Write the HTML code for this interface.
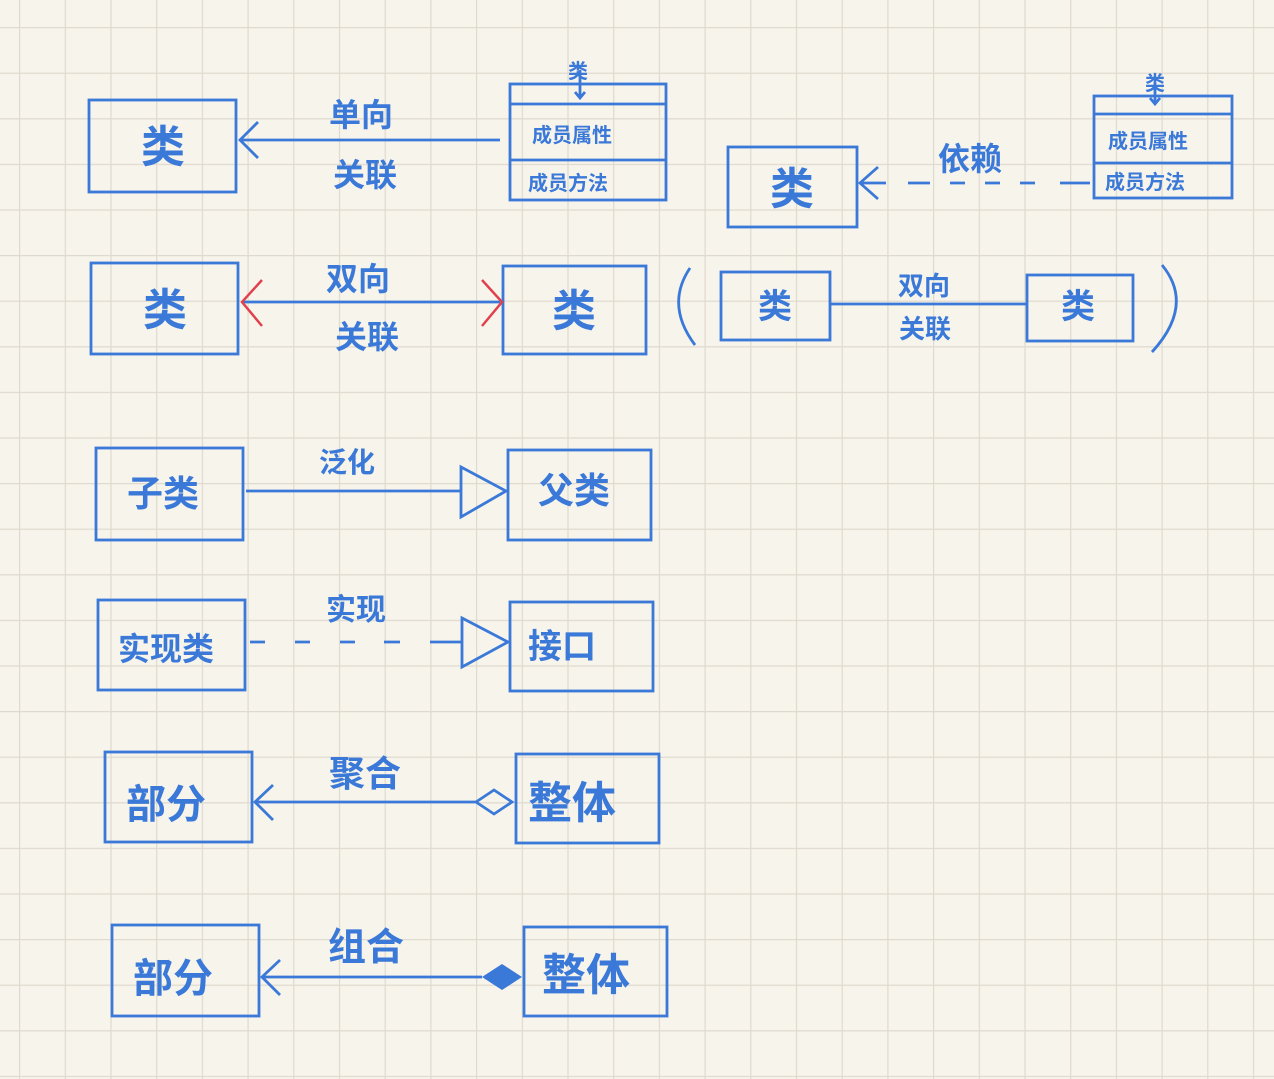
<!DOCTYPE html>
<html><head><meta charset="utf-8"><style>
html,body{margin:0;padding:0;background:#f7f4eb;}
svg{display:block}
text{font-family:"Liberation Sans","Noto Sans CJK SC",sans-serif;fill:#3b79d9;font-weight:bold;}
</style></head><body>
<svg width="1274" height="1079" viewBox="0 0 1274 1079" xmlns="http://www.w3.org/2000/svg">
<defs>
<pattern id="g" x="19" y="27" width="45.7" height="45.6" patternUnits="userSpaceOnUse">
<path d="M0 0H45.7M0 0V45.6" stroke="#dfdacf" stroke-width="2.4" fill="none"/>
</pattern>
</defs>
<rect width="1274" height="1079" fill="url(#g)"/>
<g stroke="#3b79d9" stroke-width="2.8" fill="none">
<rect x="89" y="100" width="147" height="92"/>
<path d="M240 140H500M258 122L240 140L258 158"/>
<rect x="510" y="84" width="156" height="116"/>
<path d="M510 104H666M510 160H666M580 70V98M575 92L580 98L585 92"/>
<rect x="728" y="147" width="129" height="80"/>
<path d="M860 183H886M908 183H930M950 183H965M985 183H1000M1020 183H1035M1060 183H1090M878 167L860 183L878 199"/>
<rect x="1094" y="96" width="138" height="102"/>
<path d="M1094 114H1232M1094 163H1232M1155 82V104M1150 98L1155 104L1160 98"/>
<rect x="91" y="263" width="147" height="91"/>
<path d="M242 302H500"/>
<rect x="503" y="266" width="143" height="88"/>
<path d="M690 268Q665 305 695 345M1162 265Q1195 305 1152 352"/>
<rect x="721" y="272" width="109" height="68"/>
<path d="M830 304H1027"/>
<rect x="1027" y="275" width="106" height="66"/>
<rect x="96" y="448" width="147" height="92"/>
<path d="M246 491H461M461 467L506 491L461 517Z"/>
<rect x="508" y="450" width="143" height="90"/>
<rect x="98" y="600" width="147" height="90"/>
<path d="M250 642H265M295 642H310M340 642H355M384 642H400M430 642H462M462 618L508 642L462 667Z"/>
<rect x="510" y="602" width="143" height="89"/>
<rect x="105" y="752" width="147" height="90"/>
<path d="M255 802H476M273 785L255 802L273 820M476 802L494 790L512 802L494 814Z"/>
<rect x="516" y="754" width="143" height="89"/>
<rect x="112" y="925" width="147" height="91"/>
<path d="M262 977H482M280 960L262 977L280 995"/>
<rect x="524" y="927" width="143" height="89"/>
</g>
<path d="M482 977L502 964L522 977L502 990Z" fill="#3b79d9"/>
<g stroke="#e0414d" stroke-width="2.5" fill="none">
<path d="M262 280L242 302L262 326M482 280L502 302L482 326"/>
</g>
<g font-size="44" text-anchor="middle">
<text x="163" y="162">类</text>
<text x="792" y="204">类</text>
<text x="165" y="325">类</text>
<text x="574" y="326">类</text>
<text font-size="34" x="775" y="318">类</text>
<text font-size="34" x="1078" y="318">类</text>
<text font-size="36" x="163" y="506">子类</text>
<text font-size="36" x="574" y="503">父类</text>
<text font-size="32" x="166" y="660">实现类</text>
<text font-size="34" x="562" y="658">接口</text>
<text font-size="40" x="166" y="818">部分</text>
<text font-size="44" x="572" y="818">整体</text>
<text font-size="40" x="173" y="992">部分</text>
<text font-size="44" x="586" y="990">整体</text>
</g>
<g font-size="32" text-anchor="middle">
<text x="361" y="126">单向</text>
<text x="365" y="186">关联</text>
<text x="358" y="290">双向</text>
<text x="367" y="348">关联</text>
<text x="970" y="170">依赖</text>
<text font-size="26" x="924" y="295">双向</text>
<text font-size="26" x="925" y="338">关联</text>
<text font-size="28" x="347" y="472">泛化</text>
<text font-size="30" x="356" y="620">实现</text>
<text font-size="36" x="365" y="786">聚合</text>
<text font-size="38" x="366" y="960">组合</text>
</g>
<g font-size="20" text-anchor="middle">
<text x="578" y="78">类</text>
<text x="1155" y="90">类</text>
<text x="572" y="142">成员属性</text>
<text x="568" y="190">成员方法</text>
<text x="1148" y="148">成员属性</text>
<text x="1145" y="189">成员方法</text>
</g>
</svg>
</body></html>
